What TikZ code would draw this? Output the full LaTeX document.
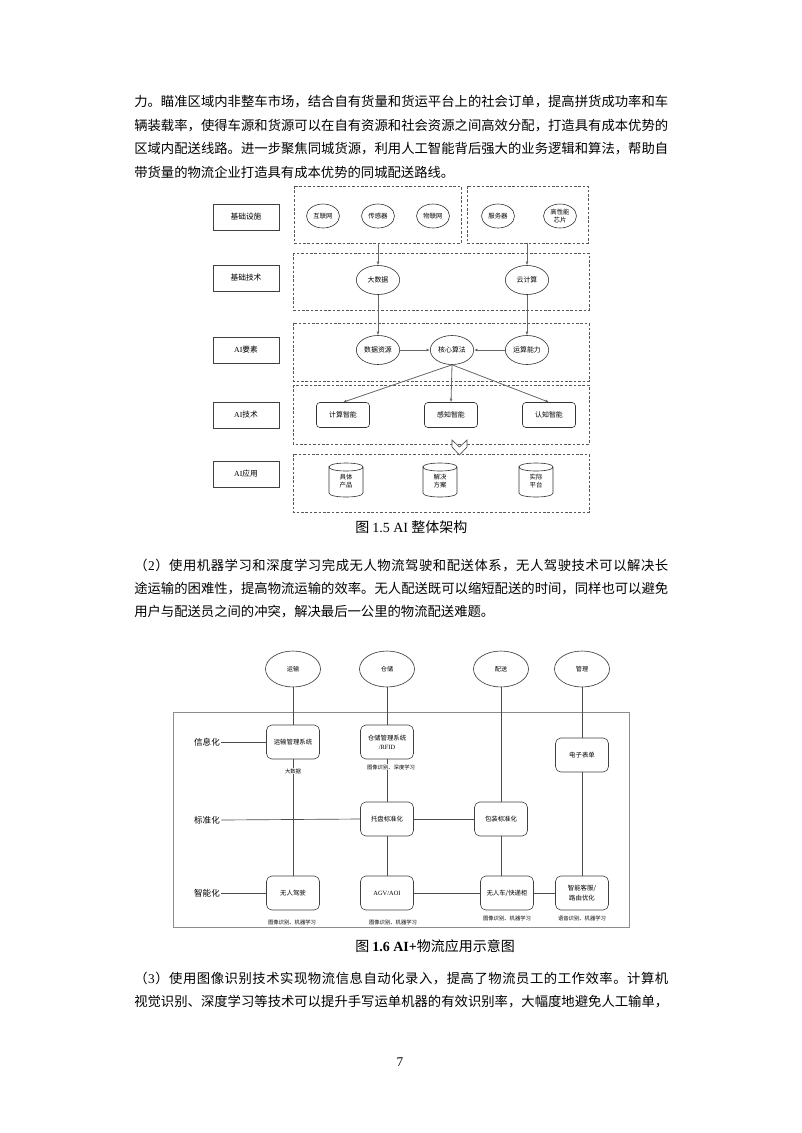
\documentclass[tikz,border=0pt]{standalone}
\usepackage{fontspec}
\setmainfont{Noto Sans CJK SC}
\newfontfamily\lat{Liberation Serif}
\usetikzlibrary{shapes.geometric,arrows.meta}
\makeatletter
\def\sprd#1{\sprda#1\@nil}
\def\sprda#1{#1\sprdb}
\def\sprdb#1{\ifx#1\@nil\else\hfil#1\expandafter\sprdb\fi}
\makeatother
\newcommand\ltwo{{\lat 2}}
\newcommand\lthree{{\lat 3}}
\newcommand\jline[1]{\makebox[400.5pt][s]{\sprd{#1}}}
\tikzset{
 bodytxt/.style={anchor=west,inner sep=0pt,font=\fontsize{10}{12}\selectfont},
 lbl/.style={draw=black!75,line width=0.45pt,minimum width=49.5pt,minimum height=19.5pt,inner sep=0pt,font=\fontsize{5.8}{7}\selectfont},
 dbox/.style={draw=black!65,line width=0.5pt,dash pattern=on 2pt off 1.3pt},
 ella/.style={ellipse,draw=black!80,line width=0.45pt,minimum width=24.75pt,minimum height=18pt,inner sep=0pt,font=\fontsize{4.8}{5.6}\selectfont,align=center},
 ellb/.style={ella,minimum width=32.5pt,minimum height=21.75pt,font=\fontsize{5.2}{6}\selectfont},
 rbox/.style={draw=black!80,line width=0.45pt,rounded corners=2.5pt,minimum width=39.75pt,minimum height=18.75pt,inner sep=0pt,font=\fontsize{5.2}{6}\selectfont},
 arr/.style={draw=black!60,line width=0.6pt,-{Latex[length=2.6pt,width=2.2pt]}},
 cylst/.style={draw=black!80,line width=0.45pt},
 cyltxt/.style={inner sep=0pt,font=\fontsize{4.8}{5.8}\selectfont,align=center},
 captxt/.style={anchor=west,inner sep=0pt,font=\fontsize{10.5}{12}\selectfont},
 bell/.style={ellipse,draw=black!80,line width=0.45pt,minimum width=41.25pt,minimum height=27pt,inner sep=0pt,font=\fontsize{4.6}{5.5}\selectfont},
 bbox/.style={draw=black!75,line width=0.45pt,rounded corners=4pt,minimum width=39.75pt,minimum height=25.5pt,inner sep=0pt,align=center,font=\fontsize{4.8}{7}\selectfont},
 rowtxt/.style={inner sep=1pt,font=\fontsize{6.4}{7.5}\selectfont},
 subtxt/.style={inner sep=0.5pt,fill=white,font=\fontsize{4}{5}\selectfont},
 ln/.style={draw=black!70,line width=0.5pt},
}
\begin{document}
\begin{tikzpicture}[x=0.75pt,y=-0.75pt]
\useasboundingbox (0,0) rectangle (802,1133);
\fill[white] (0,0) rectangle (802,1133);

% ---------- paragraph 1 ----------
\node[bodytxt] (p1a) at (134,102) {\jline{力。瞄准区域内非整车市场，结合自有货量和货运平台上的社会订单，提高拼货成功率和车}};
\node[bodytxt] (p1b) at (134,125.5) {\jline{辆装载率，使得车源和货源可以在自有资源和社会资源之间高效分配，打造具有成本优势的}};
\node[bodytxt] (p1c) at (134,149) {\jline{区域内配送线路。进一步聚焦同城货源，利用人工智能背后强大的业务逻辑和算法，帮助自}};
\node[bodytxt] (p1d) at (134,172.5) {带货量的物流企业打造具有成本优势的同城配送路线。};

% ---------- figure 1.5 ----------
\node[lbl] (l1) at (246,217) {基础设施};
\node[lbl] (l2) at (246,278) {基础技术};
\node[lbl] (l3) at (246,350) {{\lat AI}要素};
\node[lbl] (l4) at (246,415) {{\lat AI}技术};
\node[lbl] (l5) at (246,474) {{\lat AI}应用};

\draw[dbox] (294,186) rectangle (461,243);
\draw[dbox] (467,186) rectangle (588,243);
\draw[dbox] (293,253) rectangle (589,310);
\draw[dbox] (293,323) rectangle (589,381);
\draw[dbox] (293,385) rectangle (589,444);
\draw[dbox] (293,454) rectangle (589,512);
\coordinate (d1b) at (378,243);
\coordinate (d2b) at (527,243);

\node[ella] (hlw) at (323,216) {互联网};
\node[ella] (cgq) at (378,216) {传感器};
\node[ella] (wlw) at (433,216) {物联网};
\node[ella] (fwq) at (498,216) {服务器};
\node[ella] (gxn) at (560,216) {高性能\\芯片};
\node[ellb] (dsj) at (378,280) {大数据};
\node[ellb] (yjs) at (527,280) {云计算};
\node[ellb] (sjzy) at (378,350) {数据资源};
\node[ellb] (hxsf) at (452,350) {核心算法};
\node[ellb] (ysnl) at (527,350) {运算能力};
\node[rbox] (jszn) at (343,415) {计算智能};
\node[rbox] (gzzn) at (451,415) {感知智能};
\node[rbox] (rzzn) at (549,415) {认知智能};

\draw[arr] (d1b) -- (dsj.north);
\draw[arr] (d2b) -- (yjs.north);
\draw[arr] (dsj.south) -- (sjzy.north);
\draw[arr] (yjs.south) -- (ysnl.north);
\draw[arr] (sjzy.east) -- (hxsf.west);
\draw[arr] (ysnl.west) -- (hxsf.east);
\draw[arr] (hxsf.south) -- (jszn.north);
\draw[arr] (hxsf.south) -- (gzzn.north);
\draw[arr] (hxsf.south) -- (rzzn.north);

\draw[fill=white,draw=black!70,line width=0.5pt] (452,440) -- (459.5,447) -- (467,440) -- (467,447) -- (459.5,455) -- (452,447) -- cycle;

\foreach \nm/\cx/\tx in {cya/346/{具体\\产品}, cyb/440/{解决\\方案}, cyc/536/{实际\\平台}} {
 \draw[cylst] (\cx-17,467) .. controls (\cx-17,461.67) and (\cx+17,461.67) .. (\cx+17,467) .. controls (\cx+17,472.33) and (\cx-17,472.33) .. (\cx-17,467) -- (\cx-17,493) .. controls (\cx-17,498.33) and (\cx+17,498.33) .. (\cx+17,493) -- (\cx+17,467);
 \node[cyltxt] (\nm) at (\cx,481) {\tx};
}

\node[captxt] (cap1) at (355,527) {图 {\lat 1.5 AI} 整体架构};

% ---------- paragraph 2 ----------
\node[bodytxt] (p2a) at (134,565) {\jline{（\ltwo）使用机器学习和深度学习完成无人物流驾驶和配送体系，无人驾驶技术可以解决长}};
\node[bodytxt] (p2b) at (134,588.5) {\jline{途运输的困难性，提高物流运输的效率。无人配送既可以缩短配送的时间，同样也可以避免}};
\node[bodytxt] (p2c) at (134,612) {用户与配送员之间的冲突，解决最后一公里的物流配送难题。};

% ---------- figure 1.6 ----------
\node[bell] (e1) at (293,669) {运输};
\node[bell] (e2) at (387,669) {仓储};
\node[bell] (e3) at (501,669) {配送};
\node[bell] (e4) at (582,669) {管理};
\draw[draw=black!45,line width=0.7pt] (173,712) rectangle (629,927);

\node[bbox] (ys) at (293,742) {运输管理系统};
\node[bbox] (cc) at (387,742) {仓储管理系统\\{\lat /RFID}};
\node[bbox] (dz) at (582,755) {电子表单};
\node[bbox] (tp) at (387,819) {托盘标准化};
\node[bbox] (bz) at (501,819) {包装标准化};
\node[bbox] (wr) at (293,893) {无人驾驶};
\node[bbox] (agv) at (387,893) {{\lat AGV/AOI}};
\node[bbox] (wrc) at (507,893) {无人车/快递柜};
\node[bbox] (zn) at (582,893) {智能客服/\\路由优化};

\node[rowtxt] (xxh) at (207,742) {信息化};
\node[rowtxt] (bzh) at (207,820) {标准化};
\node[rowtxt] (znh) at (207,893) {智能化};

\draw[ln] (e1.south) -- (ys.north);
\draw[ln] (ys.south) -- (wr.north);
\draw[ln] (e2.south) -- (cc.north);
\draw[ln] (cc.south) -- (tp.north);
\draw[ln] (tp.south) -- (agv.north);
\draw[ln] (e3.south) -- (bz.north);
\draw[ln] (bz.south) -- (bz.south |- wrc.north);
\draw[ln] (e4.south) -- (dz.north);
\draw[ln] (dz.south) -- (zn.north);
\draw[ln] (xxh.east) -- (ys.west);
\draw[ln] (bzh.east) -- (tp.west);
\draw[ln] (tp.east) -- (bz.west);
\draw[ln] (znh.east) -- (wr.west);
\draw[ln] (agv.east) -- (wrc.west);
\draw[ln] (wrc.east) -- (zn.west);

\node[subtxt] (s1) at (293,771) {大数据};
\node[subtxt] (s2) at (391,767) {图像识别、深度学习};
\node[subtxt] (s3) at (292,922) {图像识别、机器学习};
\node[subtxt] (s4) at (393,922) {图像识别、机器学习};
\node[subtxt] (s5) at (507,918) {图像识别、机器学习};
\node[subtxt] (s6) at (582,918) {语音识别、机器学习};

\node[captxt] (cap2) at (355,946) {图 {\lat\bfseries 1.6 AI+}物流应用示意图};

% ---------- paragraph 3 ----------
\node[bodytxt] (p3a) at (134,978) {\jline{（\lthree）使用图像识别技术实现物流信息自动化录入，提高了物流员工的工作效率。计算机}};
\node[bodytxt] (p3b) at (134,1002) {\jline{视觉识别、深度学习等技术可以提升手写运单机器的有效识别率，大幅度地避免人工输单，}};

\node[inner sep=0pt,font=\lat\fontsize{10}{12}\selectfont] (pg) at (400,1062) {7};
\end{tikzpicture}
\end{document}
